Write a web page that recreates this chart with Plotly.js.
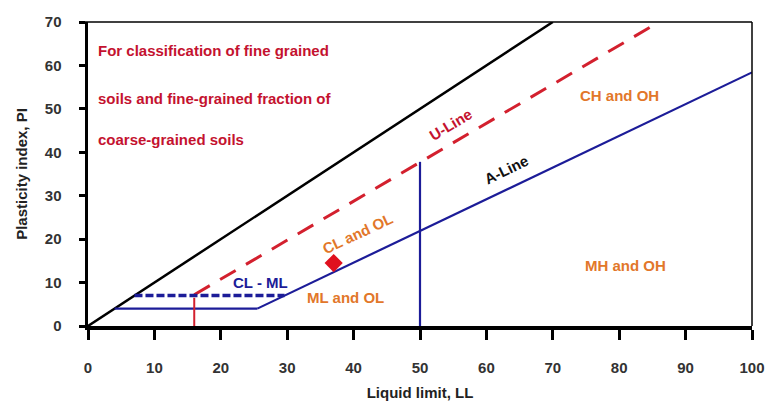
<!DOCTYPE html>
<html>
<head>
<meta charset="utf-8">
<script src="https://cdn.plot.ly/plotly-3.0.1.min.js"></script>
<style>html,body{margin:0;padding:0;background:#fff;}#chart{width:765px;height:407px;}</style>
</head>
<body>
<div id="chart"></div>
<script>
// Values
const xTicks = [0, 10, 20, 30, 40, 50, 60, 70, 80, 90, 100];
const yTicks = [0, 10, 20, 30, 40, 50, 60, 70];

const upperLL = [0, 70];      const upperPI = [0, 70];
const uLineLL = [16, 86];     const uLinePI = [7.2, 70];
const aLineLL = [25.5, 100];  const aLinePI = [4, 58.4];
const lowBandLL = [4, 25.5];  const lowBandPI = [4, 4];
const clmlLL = [7, 29.6];     const clmlPI = [7, 7];
const uStemLL = [16, 16];     const uStemPI = [0, 6.5];
const ll50LL = [50, 50];      const ll50PI = [0, 37.8];
const sampleLL = [37];        const samplePI = [14.5];

const FONT = "'Liberation Sans', Arial, sans-serif";
const RED = '#c4122f', BLUE = '#1c1c98', ORANGE = '#e2772a';

const traces = [
  {x: upperLL, y: upperPI, mode: 'lines', line: {color: '#000', width: 2.5}},
  {x: uLineLL, y: uLinePI, mode: 'lines', line: {color: '#d3202e', width: 3, dash: '18px,12px'}},
  {x: aLineLL, y: aLinePI, mode: 'lines', line: {color: BLUE, width: 2.2}},
  {x: lowBandLL, y: lowBandPI, mode: 'lines', line: {color: BLUE, width: 2.2}},
  {x: clmlLL, y: clmlPI, mode: 'lines', line: {color: BLUE, width: 3.5, dash: '8px,3px'}},
  {x: uStemLL, y: uStemPI, mode: 'lines', line: {color: '#d3202e', width: 2}},
  {x: ll50LL, y: ll50PI, mode: 'lines', line: {color: BLUE, width: 2.2}},
  {x: sampleLL, y: samplePI, mode: 'markers', marker: {symbol: 'diamond', size: 14, color: '#e0101e'}}
];

const ann = (x, y, text, color, size, angle) => ({
  x, y, xref: 'x', yref: 'y', text, showarrow: false, textangle: angle || 0,
  font: {family: FONT, size, color, weight: 'bold'}
});

const layout = {
  width: 765, height: 407,
  margin: {l: 88, r: 13, t: 22, b: 81},
  paper_bgcolor: '#fff', plot_bgcolor: '#fff',
  showlegend: false,
  font: {family: FONT, color: '#222'},
  xaxis: {
    range: [0, 100], tickvals: xTicks, ticktext: xTicks.map(String),
    showgrid: false, zeroline: false, showline: true, linecolor: '#000', linewidth: 3.5,
    ticks: 'outside', ticklen: 10, tickwidth: 3, tickcolor: '#000', ticklabelstandoff: 15,
    ticklabeloverflow: 'allow',
    tickfont: {family: FONT, size: 15, color: '#333', weight: 'bold'},
    title: {text: 'Liquid limit, LL', standoff: 14, font: {family: FONT, size: 15, color: '#222', weight: 'bold'}}
  },
  yaxis: {
    range: [0, 70], tickvals: yTicks, ticktext: yTicks.map(String),
    showgrid: false, zeroline: false, showline: true, linecolor: '#000', linewidth: 3.5,
    ticks: 'outside', ticklen: 6, tickwidth: 3, tickcolor: '#000', ticklabelstandoff: 14,
    tickfont: {family: FONT, size: 15, color: '#333', weight: 'bold'},
    title: {text: 'Plasticity index, PI', standoff: 14, font: {family: FONT, size: 15, color: '#222', weight: 'bold'}}
  },
  shapes: [
    {type: 'line', xref: 'paper', yref: 'paper', x0: -0.008, x1: 1, y0: 1, y1: 1, line: {color: '#000', width: 1.5}},
    {type: 'line', xref: 'paper', yref: 'paper', x0: 1, x1: 1, y0: 0, y1: 1, line: {color: '#000', width: 1.5}}
  ],
  annotations: [
    Object.assign(ann(1.2, 63.5, 'For classification of fine grained', RED, 15), {xanchor: 'left'}),
    Object.assign(ann(1.2, 52.5, 'soils and fine-grained fraction of', RED, 15), {xanchor: 'left'}),
    Object.assign(ann(1.2, 43, 'coarse-grained soils', RED, 15), {xanchor: 'left'}),
    ann(54.6, 46.5, 'U-Line', RED, 15, -31),
    ann(63, 36, 'A-Line', '#111', 15, -26),
    ann(80, 53, 'CH and OH', ORANGE, 15),
    ann(40.6, 21.2, 'CL and OL', ORANGE, 15, -25),
    ann(26, 10, 'CL - ML', BLUE, 15),
    ann(38.8, 6.5, 'ML and OL', ORANGE, 15),
    ann(81, 14, 'MH and OH', ORANGE, 15)
  ]
};

Plotly.newPlot('chart', traces, layout, {displayModeBar: false, staticPlot: true});
</script>
</body>
</html>
